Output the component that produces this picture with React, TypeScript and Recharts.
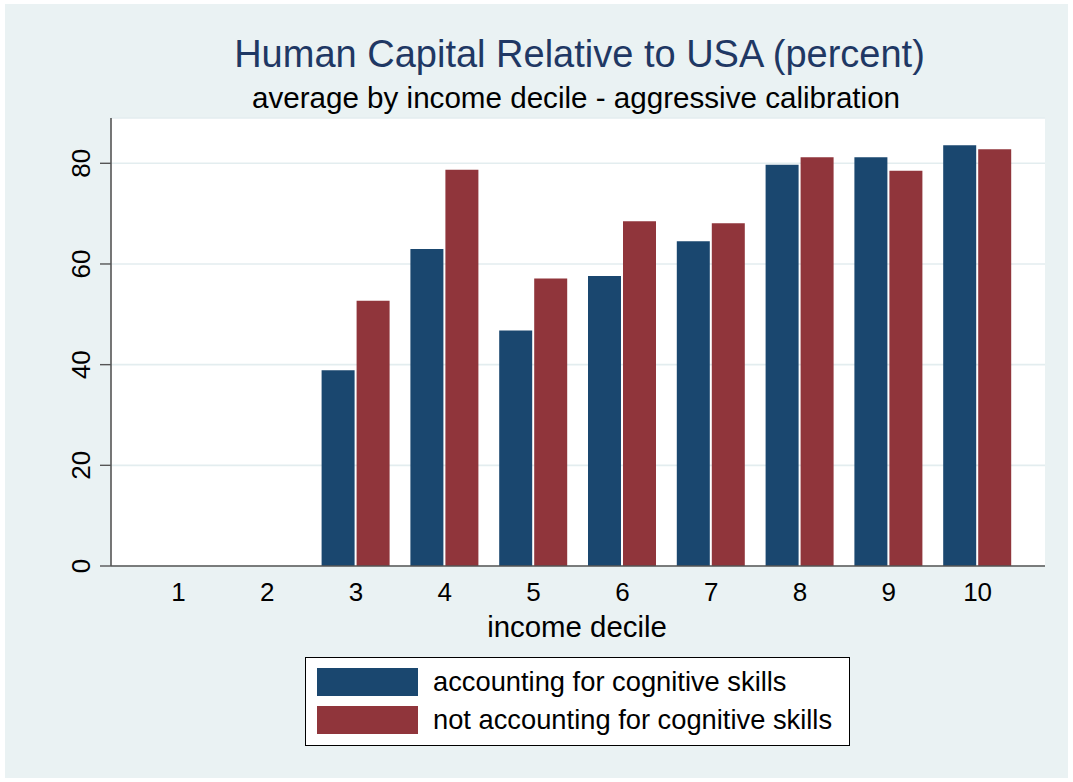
import React from 'react';
import { BarChart, Bar, XAxis, YAxis, CartesianGrid } from 'recharts';

const deciles = ['1', '2', '3', '4', '5', '6', '7', '8', '9', '10'];
const accountingSkills = [null, null, 38.9, 63.0, 46.8, 57.6, 64.5, 79.7, 81.2, 83.6];
const notAccountingSkills = [null, null, 52.7, 78.7, 57.1, 68.5, 68.1, 81.2, 78.5, 82.8];
const yTicks = [0, 20, 40, 60, 80];
const seriesNames = ['accounting for cognitive skills', 'not accounting for cognitive skills'];
const seriesColors = ['#1A476F', '#90353B'];
const titleText = 'Human Capital Relative to USA (percent)';
const subtitleText = 'average by income decile - aggressive calibration';
const xTitle = 'income decile';

const data = deciles.map((d, i) => ({
  decile: d,
  acc: accountingSkills[i],
  notAcc: notAccountingSkills[i],
}));

const FONT = '"Liberation Sans", Arial, sans-serif';

const YTick = (props: any) => {
  const { x, y, payload } = props;
  const tx = x - 10;
  return (
    <text
      x={tx}
      y={y}
      transform={`rotate(-90, ${tx}, ${y})`}
      textAnchor="middle"
      fontSize={26}
      fill="#000"
      fontFamily={FONT}
    >
      {payload.value}
    </text>
  );
};

const XTick = (props: any) => {
  const { x, y, payload } = props;
  return (
    <text x={x} y={y + 35} textAnchor="middle" fontSize={26} fill="#000" fontFamily={FONT}>
      {payload.value}
    </text>
  );
};

export default function App() {
  return (
    <div style={{ position: 'absolute', left: 0, top: 0, width: 1073, height: 782, background: '#fff' }}>
      <div style={{ position: 'absolute', left: 5, top: 4, width: 1063, height: 774, background: '#EAF2F3' }} />
      <div style={{ position: 'absolute', left: 0, top: 0 }}>
        <BarChart
          width={1073}
          height={782}
          data={data}
          margin={{ top: 118, right: 28, left: 51, bottom: 186 }}
          barSize={33}
          barGap={2}
        >
          <CartesianGrid
            vertical={false}
            fill="#ffffff"
            stroke="#E3EDEF"
            strokeWidth={1.6}
          />
          <XAxis
            dataKey="decile"
            height={30}
            padding={{ left: 23, right: 23 }}
            tickLine={false}
            tickSize={0}
            tickMargin={0}
            axisLine={{ stroke: '#555', strokeWidth: 1.6 }}
            tick={<XTick />}
            interval={0}
          />
          <YAxis
            width={60}
            domain={[0, 89]}
            ticks={yTicks}
            allowDataOverflow
            tickSize={11}
            tickMargin={0}
            tickLine={{ stroke: '#555', strokeWidth: 1.4 }}
            axisLine={{ stroke: '#555', strokeWidth: 1.6 }}
            tick={<YTick />}
          />
          <Bar dataKey="acc" name={seriesNames[0]} fill={seriesColors[0]} isAnimationActive={false} />
          <Bar dataKey="notAcc" name={seriesNames[1]} fill={seriesColors[1]} isAnimationActive={false} />
        </BarChart>
      </div>
      <svg
        width={1073}
        height={782}
        style={{ position: 'absolute', left: 0, top: 0, pointerEvents: 'none' }}
        fontFamily={FONT}
      >
        <text x={579.5} y={67} textAnchor="middle" fontSize={38} fill="#1F3864">
          {titleText}
        </text>
        <text x={576} y={108} textAnchor="middle" fontSize={29.6} fill="#000">
          {subtitleText}
        </text>
        <text x={577} y={637} textAnchor="middle" fontSize={29.4} fill="#000">
          {xTitle}
        </text>
        <rect x={305.5} y={657.5} width={544} height={88} fill="#fff" stroke="#000" strokeWidth={1} />
        {seriesNames.map((name, i) => (
          <g key={name}>
            <rect x={317} y={668 + i * 38} width={101} height={28} fill={seriesColors[i]} />
            <text x={433} y={691 + i * 38} fontSize={27.3} fill="#000">
              {name}
            </text>
          </g>
        ))}
      </svg>
    </div>
  );
}
